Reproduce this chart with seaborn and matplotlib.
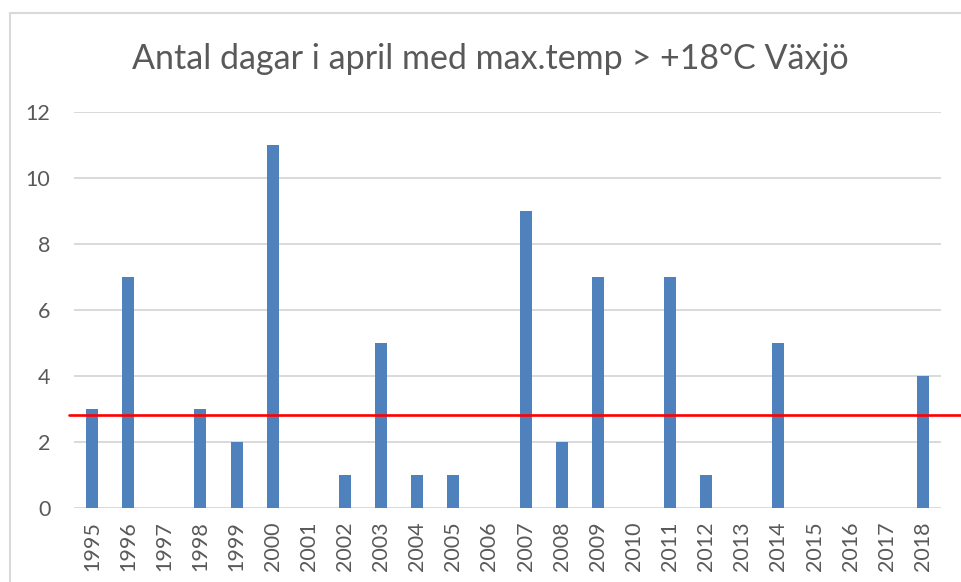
import matplotlib
matplotlib.use("Agg")
import matplotlib.pyplot as plt
import seaborn as sns
import pandas as pd
from matplotlib.lines import Line2D

years = [str(y) for y in range(1995, 2019)]
days = [3, 7, 0, 3, 2, 11, 0, 1, 5, 1, 1, 0, 9, 2, 7, 0, 7, 1, 0, 5, 0, 0, 0, 4]
threshold = 2.8
title = "Antal dagar i april med max.temp > +18°C Växjö"
yticks = [0, 2, 4, 6, 8, 10, 12]

sns.set_theme(style="white")
plt.rcParams['font.family'] = ['Lato', 'DejaVu Sans']

W, H = 962, 582
fig = plt.figure(figsize=(W / 100, H / 100), dpi=100)
ax = fig.add_axes([74 / W, (H - 507.7) / H, (941 - 74) / W, (507.7 - 111.7) / H])

df = pd.DataFrame({"year": years, "days": days})
sns.barplot(data=df, x="year", y="days", color="#4F81BD", saturation=1,
            width=0.33, linewidth=0, ax=ax, zorder=3)

ax.set_ylim(0, 12)
ax.set_xlim(-0.5, len(years) - 0.5)
ax.set_yticks(yticks)
ax.yaxis.grid(True, color="#D9D9D9", linewidth=1.4, zorder=0)
ax.set_axisbelow(True)
for s in ax.spines.values():
    s.set_visible(False)
ax.tick_params(axis="both", length=0, colors="#595959", labelsize=15.5)
ax.tick_params(axis="y", pad=17)
ax.tick_params(axis="x", pad=10)
plt.setp(ax.get_xticklabels(), rotation=90)
ax.set_xlabel("")
ax.set_ylabel("")

# threshold line (extends beyond the plot area, like a drawn shape)
ax.axhline(threshold, xmin=(69 - 74) / 867, xmax=(962 - 74) / 867,
           color="#FF0000", linewidth=1.9, clip_on=False, zorder=5)

fig.text(490 / W, (H - 69) / H, title, ha="center", va="baseline",
         fontsize=24.5, color="#595959")

# chart border
fig.add_artist(Line2D([10 / W, 10 / W], [0, (H - 13) / H], color="#D9D9D9", linewidth=1.5))
fig.add_artist(Line2D([10 / W, 1], [(H - 13) / H, (H - 13) / H], color="#D9D9D9", linewidth=1.5))

fig.savefig("out.png", dpi=100, facecolor="white")
